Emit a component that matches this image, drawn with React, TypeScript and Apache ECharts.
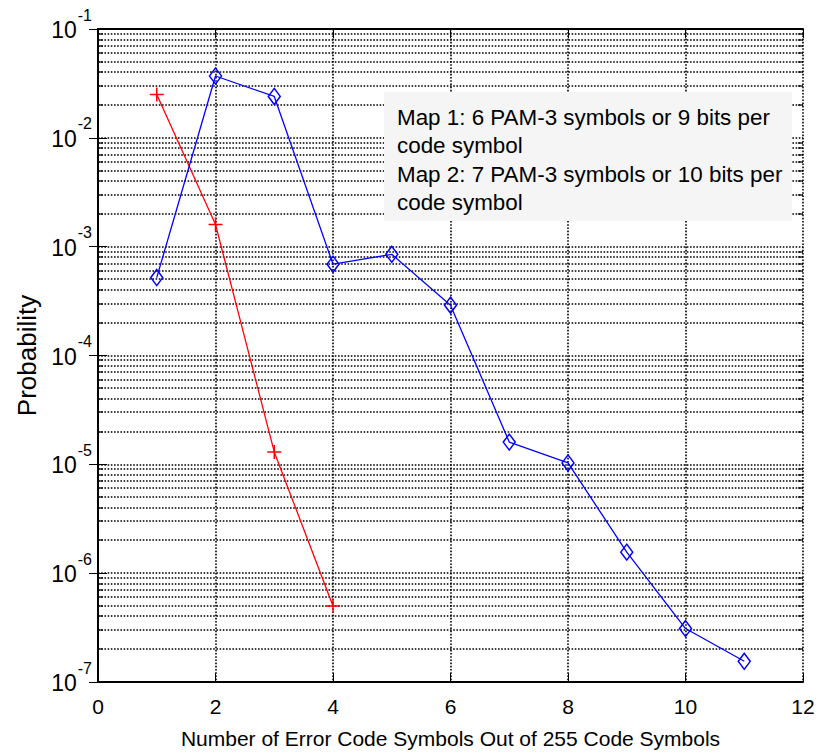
import React, { useEffect, useRef } from "react";
import * as echarts from "echarts";

const xValues = [1, 2, 3, 4, 5, 6, 7, 8, 9, 10, 11];
const map1Values = [0.025, 0.0016, 1.3e-5, 5.0e-7];
const map2Values = [5.2e-4, 0.037, 0.024, 6.9e-4, 8.5e-4, 2.9e-4, 1.6e-5, 1.03e-5, 1.56e-6, 3.1e-7, 1.55e-7];
const decadeExponents = [-7, -6, -5, -4, -3, -2];
const minorMultipliers = [2, 3, 4, 5, 6, 7, 8, 9];
const legendLines = [
  "Map 1: 6 PAM-3 symbols or 9 bits per",
  "code symbol",
  "Map 2: 7 PAM-3 symbols or 10 bits per",
  "code symbol",
];
const xTitle = "Number of Error Code Symbols Out of 255 Code Symbols";
const yTitle = "Probability";

const FONT = "'Liberation Sans', Arial, Helvetica, sans-serif";
const GRID_W = 1.6;

export default function App() {
  const ref = useRef<HTMLDivElement>(null);
  useEffect(() => {
    if (!ref.current) return;
    const chart = echarts.init(ref.current, null, { renderer: "svg" });
    const minorData: number[][] = [];
    decadeExponents.forEach((e) => {
      minorMultipliers.forEach((m) => minorData.push([0, m * Math.pow(10, e)]));
    });
    const dotted = { color: "#000", width: GRID_W, type: [GRID_W, GRID_W] as any };
    const option: any = {
      animation: false,
      backgroundColor: "#fff",
      grid: {
        left: 98,
        top: 29,
        right: 18,
        bottom: 72,
        containLabel: false,
        outerBoundsMode: "none",
      },
      xAxis: [
        {
          type: "value",
          min: 0,
          max: 12,
          interval: 2,
          position: "bottom",
          name: xTitle,
          nameLocation: "middle",
          nameGap: 46,
          nameTextStyle: { fontFamily: FONT, fontSize: 21, color: "#000" },
          axisLine: { lineStyle: { color: "#000", width: 2 } },
          axisTick: { inside: true, length: 9, lineStyle: { color: "#000", width: 1 } },
          axisLabel: { fontFamily: FONT, fontSize: 21, color: "#000", margin: 14 },
          splitLine: { show: true, lineStyle: dotted },
        },
        {
          type: "value",
          min: 0,
          max: 12,
          interval: 2,
          position: "top",
          axisLine: { lineStyle: { color: "#000", width: 2 } },
          axisTick: { inside: true, length: 9, lineStyle: { color: "#000", width: 1 } },
          axisLabel: { show: false },
          splitLine: { show: false },
        },
      ],
      yAxis: [
        {
          type: "log",
          logBase: 10,
          min: 1e-7,
          max: 1e-1,
          interval: 1,
          position: "left",
          name: yTitle,
          nameLocation: "middle",
          nameGap: 58,
          nameTextStyle: { fontFamily: FONT, fontSize: 26, color: "#000" },
          axisLine: { lineStyle: { color: "#000", width: 2 } },
          axisTick: { inside: true, length: 9, lineStyle: { color: "#000", width: 1 } },
          axisLabel: {
            margin: 6,
            formatter: (v: number) => `{b|10}{s|${Math.round(Math.log10(v))}}`,
            rich: {
              b: { fontFamily: FONT, fontSize: 23, color: "#000", padding: [2, 0, 0, 0] },
              s: { fontFamily: FONT, fontSize: 16, color: "#000", padding: [0, 0, 28, 1] },
            },
          },
          splitLine: { show: true, lineStyle: dotted },
        },
        {
          type: "log",
          logBase: 10,
          min: 1e-7,
          max: 1e-1,
          interval: 1,
          position: "right",
          axisLine: { show: true, lineStyle: { color: "#000", width: 2 } },
          axisTick: { inside: true, length: 9, lineStyle: { color: "#000", width: 1 } },
          axisLabel: { show: false },
          splitLine: { show: false },
        },
      ],
      series: [
        {
          type: "custom",
          name: "minorGrid",
          silent: true,
          z: 1,
          xAxisIndex: 0,
          yAxisIndex: 0,
          encode: { x: 0, y: 1 },
          data: minorData,
          renderItem: (params: any, api: any) => {
            const y = Math.round(api.coord([0, api.value(1)])[1]);
            const cs = params.coordSys;
            return {
              type: "group",
              children: [
                {
                  type: "line",
                  shape: { x1: cs.x, y1: y, x2: cs.x + cs.width, y2: y },
                  style: { stroke: "#000", lineWidth: GRID_W, lineDash: [GRID_W, GRID_W] },
                },
                {
                  type: "line",
                  shape: { x1: cs.x, y1: y, x2: cs.x + 5, y2: y },
                  style: { stroke: "#000", lineWidth: 1.2 },
                },
                {
                  type: "line",
                  shape: { x1: cs.x + cs.width - 5, y1: y, x2: cs.x + cs.width, y2: y },
                  style: { stroke: "#000", lineWidth: 1.2 },
                },
              ],
            };
          },
        },
        {
          type: "line",
          name: "Map 1",
          z: 5,
          data: map1Values.map((v, i) => [xValues[i], v]),
          lineStyle: { color: "#ff0000", width: 1.3 },
          symbol: "path://M0,5L10,5M5,0L5,10",
          symbolSize: 14,
          itemStyle: { color: "rgba(0,0,0,0)", borderColor: "#ff0000", borderWidth: 1.5 },
          showSymbol: true,
        },
        {
          type: "line",
          name: "Map 2",
          z: 5,
          data: map2Values.map((v, i) => [xValues[i], v]),
          lineStyle: { color: "#0000ff", width: 1.3 },
          symbol: "diamond",
          symbolSize: [12, 16],
          itemStyle: { color: "rgba(0,0,0,0)", borderColor: "#0000ff", borderWidth: 1.5 },
          showSymbol: true,
        },
      ],
      graphic: [
        {
          type: "rect",
          z: 100,
          shape: { x: 384, y: 92, width: 408, height: 129 },
          style: { fill: "#f5f5f5" },
        },
        ...legendLines.map((t, i) => ({
          type: "text",
          z: 101,
          x: 397,
          y: 117 + i * 28.5,
          style: {
            text: t,
            fontFamily: FONT,
            fontSize: 22.4,
            fill: "#000",
            verticalAlign: "middle",
          },
        })),
      ],
    };
    chart.setOption(option);
    return () => chart.dispose();
  }, []);
  return (
    <div
      ref={ref}
      style={{ position: "absolute", left: 0, top: 0, width: 821, height: 754, background: "#fff" }}
    />
  );
}
